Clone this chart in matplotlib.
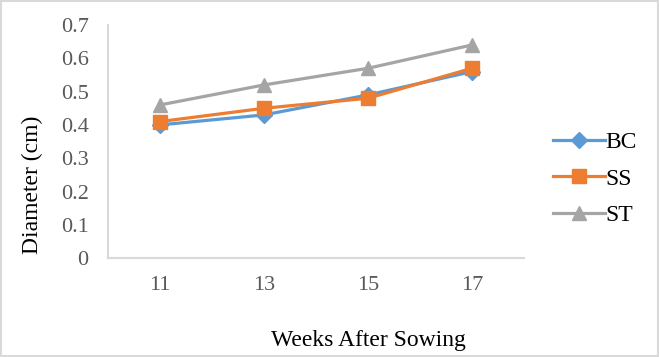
import matplotlib.pyplot as plt

# data
weeks = ['11', '13', '15', '17']
bc = [0.40, 0.43, 0.49, 0.56]
ss = [0.41, 0.45, 0.48, 0.57]
st = [0.46, 0.52, 0.57, 0.64]

plt.rcParams['font.family'] = ['Liberation Serif', 'DejaVu Serif']

fig = plt.figure(figsize=(6.59, 3.57), dpi=100)
ax = fig.add_axes([0.164, 0.277, 0.631, 0.653])

x = range(len(weeks))
ax.plot(x, bc, color='#5B9BD5', marker='D', markersize=8, linewidth=2.3, label='BC')
ax.plot(x, ss, color='#ED7D31', marker='s', markersize=10, linewidth=2.3, label='SS')
ax.plot(x, st, color='#A5A5A5', marker='^', markersize=10, linewidth=2.3, label='ST')

ax.set_xlim(-0.5, 3.5)
ax.set_ylim(0, 0.7)
ax.set_xticks(list(x))
ax.set_xticklabels(weeks)
ax.set_yticks([0, 0.1, 0.2, 0.3, 0.4, 0.5, 0.6, 0.7])
ax.set_yticklabels(['0', '0.1', '0.2', '0.3', '0.4', '0.5', '0.6', '0.7'])
ax.tick_params(length=0, labelsize=16, colors='#595959')
ax.tick_params(axis='y', pad=14)
ax.tick_params(axis='x', pad=13)

for s in ['top', 'right']:
    ax.spines[s].set_visible(False)
for s in ['left', 'bottom']:
    ax.spines[s].set_color('#D9D9D9')
    ax.spines[s].set_linewidth(1.5)

ax.set_xlabel('Weeks After Sowing', fontsize=17, va='center')
ax.xaxis.set_label_coords(0.625, -0.352)
ax.set_ylabel('Diameter (cm)', fontsize=17, va='center')
ax.yaxis.set_label_coords(-0.183, 0.313)

ax.legend(loc='center left', bbox_to_anchor=(1.02, 0.34), frameon=False,
          fontsize=17, handlelength=2.2, handletextpad=0.0, labelspacing=0.62)

# light grey border around the figure
fig.patches.append(plt.Rectangle((0.002, 0.003), 0.996, 0.994, transform=fig.transFigure,
                                 fill=False, edgecolor='#D9D9D9', linewidth=1.5))

fig.savefig('out.png', dpi=100)
